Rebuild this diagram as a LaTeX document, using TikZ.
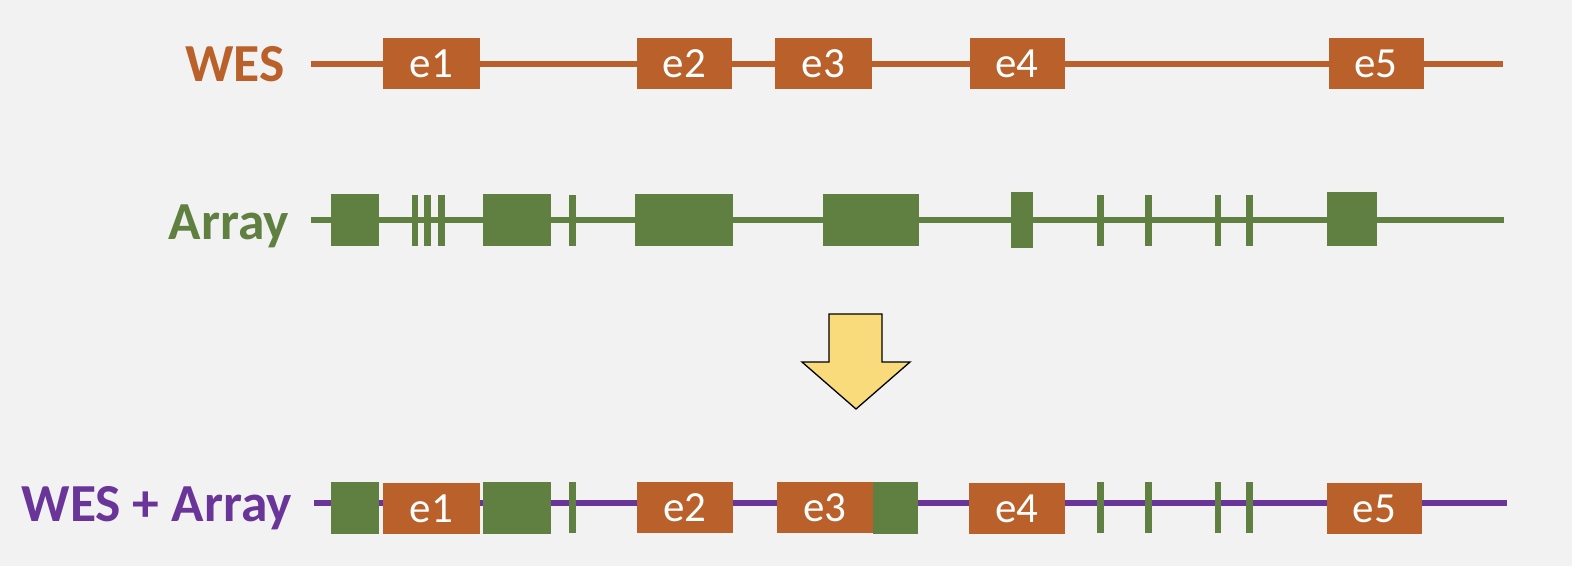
\documentclass[tikz,border=0pt]{standalone}
\usepackage{fontspec}
\setmainfont{Carlito}
\definecolor{bg}{HTML}{F2F2F2}
\definecolor{wes}{HTML}{B9602B}
\definecolor{arr}{HTML}{5F8040}
\definecolor{pur}{HTML}{6A3599}
\definecolor{yel}{HTML}{F9DB7C}
\tikzset{
  exon/.style={fill=wes, draw=none, inner sep=0pt, minimum height=51, text=white, font=\fontsize{43}{50}\selectfont},
  probe/.style={fill=arr, draw=none, inner sep=0pt, minimum height=52},
  tick/.style={fill=arr, draw=none, inner sep=0pt, minimum width=6.5, minimum height=51},
  rowlabel/.style={anchor=base east, inner sep=0pt, font=\fontsize{53.5}{60}\selectfont\bfseries},
  wesline/.style={draw=wes, line width=6},
  arrline/.style={draw=arr, line width=6.5},
  purline/.style={draw=pur, line width=6.5},
}
\begin{document}
\begin{tikzpicture}[x=1pt,y=-1pt]
\useasboundingbox[fill=bg] (0,0) rectangle (1572,566);
% ---------- WES row ----------
\node[rowlabel, text=wes] (lw) at (285,81.5) {WES};
\coordinate (ws) at (311,63.5);
\coordinate (we) at (1503,63.5);
\draw[wesline] (ws) -- (we);
\node[exon, minimum width=97] (w1) at (431.5,63.5) {e1};
\node[exon, minimum width=95] (w2) at (684.5,63.5) {e2};
\node[exon, minimum width=97] (w3) at (823.5,63.5) {e3};
\node[exon, minimum width=95] (w4) at (1017,63.5) {e4};
\node[exon, minimum width=95] (w5) at (1376,63.5) {e5};
% ---------- Array row ----------
\node[rowlabel, text=arr] (la) at (289,239) {Array};
\coordinate (as) at (311,220);
\coordinate (ae) at (1504,220);
\draw[arrline] (as) -- (ae);
\node[probe, minimum width=48] (a1) at (355,220) {};
\node[tick] (t1) at (415,220.5) {};
\node[tick] (t2) at (427.5,220.5) {};
\node[tick] (t3) at (441.5,220.5) {};
\node[probe, minimum width=68] (a2) at (517,220) {};
\node[tick] (t4) at (572.5,220.5) {};
\node[probe, minimum width=98] (a3) at (684,220) {};
\node[probe, minimum width=96] (a4) at (871,220) {};
\node[probe, minimum width=22, minimum height=56] (a5) at (1022,220) {};
\node[tick] (t5) at (1100.5,220.5) {};
\node[tick] (t6) at (1148.5,220.5) {};
\node[tick] (t7) at (1218,220.5) {};
\node[tick] (t8) at (1249.5,220.5) {};
\node[probe, minimum width=50, minimum height=54] (a6) at (1352,219) {};
% ---------- Arrow ----------
\coordinate (p1) at (829,314);
\coordinate (p2) at (882,314);
\coordinate (p3) at (882,362);
\coordinate (p4) at (910,362);
\coordinate (p5) at (856,409);
\coordinate (p6) at (802,362);
\coordinate (p7) at (829,362);
\draw[fill=yel, draw=black, line width=1.3, line join=miter] (p1) -- (p2) -- (p3) -- (p4) -- (p5) -- (p6) -- (p7) -- cycle;
% ---------- WES + Array row ----------
\node[rowlabel, text=pur] (lc) at (292,521.5) {WES + Array};
\coordinate (cs) at (314,503);
\coordinate (ce) at (1507,503);
\draw[purline] (cs) -- (ce);
\node[probe, minimum width=48] (c1) at (355,508) {};
\node[exon, minimum width=97] (ce1) at (431.5,508.5) {e1};
\node[probe, minimum width=68] (c2) at (517,508) {};
\node[tick] (ct1) at (572.5,507.5) {};
\node[exon, minimum width=96] (ce2) at (685,507.5) {e2};
\node[exon, minimum width=96] (ce3) at (825,507.5) {e3};
\node[probe, minimum width=45] (c3) at (895.5,508) {};
\node[exon, minimum width=96] (ce4) at (1017,508.5) {e4};
\node[tick] (ct2) at (1100.5,507.5) {};
\node[tick] (ct3) at (1148.5,507.5) {};
\node[tick] (ct4) at (1218,507.5) {};
\node[tick] (ct5) at (1249.5,507.5) {};
\node[exon, minimum width=95] (ce5) at (1374.5,508.5) {e5};
\end{tikzpicture}
\end{document}
